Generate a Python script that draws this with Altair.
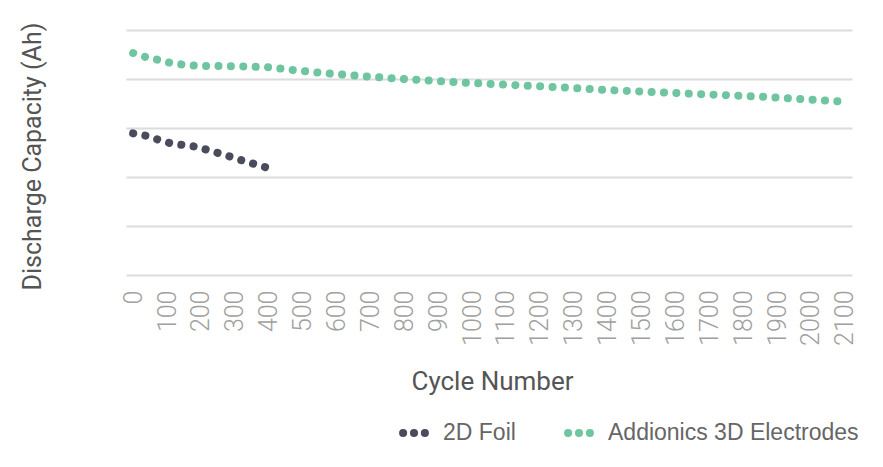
import altair as alt
import pandas as pd

# Cycle numbers and discharge capacity
foil_cycles = [0, 40, 75, 110, 150, 185, 220, 255, 290, 325, 360, 400]
foil_capacity = [2.89, 2.84, 2.76, 2.69, 2.65, 2.62, 2.55, 2.48, 2.41, 2.33, 2.26, 2.18]

add_cycles = [0, 40, 75, 110, 150, 190, 300, 400, 450, 530, 600, 670, 820, 965,
              1110, 1260, 1380, 1610, 1850, 2090]
add_capacity = [4.53, 4.44, 4.39, 4.33, 4.29, 4.27, 4.26, 4.24, 4.20, 4.14, 4.10, 4.06,
                3.99, 3.93, 3.88, 3.83, 3.78, 3.71, 3.64, 3.54]

series_names = ["2D Foil", "Addionics 3D Electrodes"]
series_colors = ["#4b4b5e", "#6fc5a0"]

x_ticks = list(range(0, 2101, 100))
y_grid = [0, 1, 2, 3, 4, 5]

df = pd.concat([
    pd.DataFrame({"cycle": foil_cycles, "capacity": foil_capacity, "series": series_names[0]}),
    pd.DataFrame({"cycle": add_cycles, "capacity": add_capacity, "series": series_names[1]}),
])

# three small circles; stroked thickly they look like three filled dots
dots_path = ("M-0.95,0a0.15,0.15 0 1,0 0.3,0a0.15,0.15 0 1,0 -0.3,0Z "
             "M-0.15,0a0.15,0.15 0 1,0 0.3,0a0.15,0.15 0 1,0 -0.3,0Z "
             "M0.65,0a0.15,0.15 0 1,0 0.3,0a0.15,0.15 0 1,0 -0.3,0Z")

chart = alt.Chart(df).mark_line(
    strokeWidth=8, strokeCap="round", strokeDash=[0.1, 12.3]
).encode(
    x=alt.X("cycle:Q",
            scale=alt.Scale(domain=[-21, 2121], nice=False, zero=False),
            axis=alt.Axis(values=x_ticks, format="d", title="Cycle Number", grid=False,
                          domain=False, ticks=False, tickSize=0, labelAngle=-90,
                          labelAlign="right", labelBaseline="middle", labelPadding=15,
                          labelFont="Roboto", labelFontSize=25, labelColor="#a0a0a0",
                          labelFontWeight=300, titleFont="Roboto", titleFontSize=26,
                          titleFontWeight="normal", titleColor="#555555", titleX=366,
                          titleY=106, titleBaseline="middle", titleAlign="center",
                          labelOverlap=False)),
    y=alt.Y("capacity:Q",
            scale=alt.Scale(domain=[0, 5], nice=False),
            axis=alt.Axis(values=y_grid, labels=False, ticks=False, domain=False,
                          title="Discharge Capacity (Ah)", titleFont="Roboto",
                          titleFontSize=25, titleFontWeight="normal", titleColor="#555555",
                          titleAngle=-90, titleX=-94, titleY=126, titleAlign="center",
                          titleBaseline="middle", gridColor="#dcdcdc", gridWidth=2)),
    color=alt.Color("series:N",
                    scale=alt.Scale(domain=series_names, range=series_colors),
                    legend=alt.Legend(title=None, orient="none", direction="horizontal",
                                      legendX=272, legendY=387, symbolType=dots_path,
                                      symbolSize=740, symbolStrokeWidth=4,
                                      labelFont="Liberation Sans", labelFontSize=23,
                                      labelColor="#666666", labelOffset=13,
                                      labelLimit=400, columnPadding=42)),
).properties(
    width=726, height=245,
    autosize=alt.AutoSizeParams(type="none"),
    padding={"left": 118, "top": 22, "right": 20, "bottom": 180},
).configure_view(stroke=None)

chart.save("out.html", embed_options={"renderer": "svg", "actions": False})
